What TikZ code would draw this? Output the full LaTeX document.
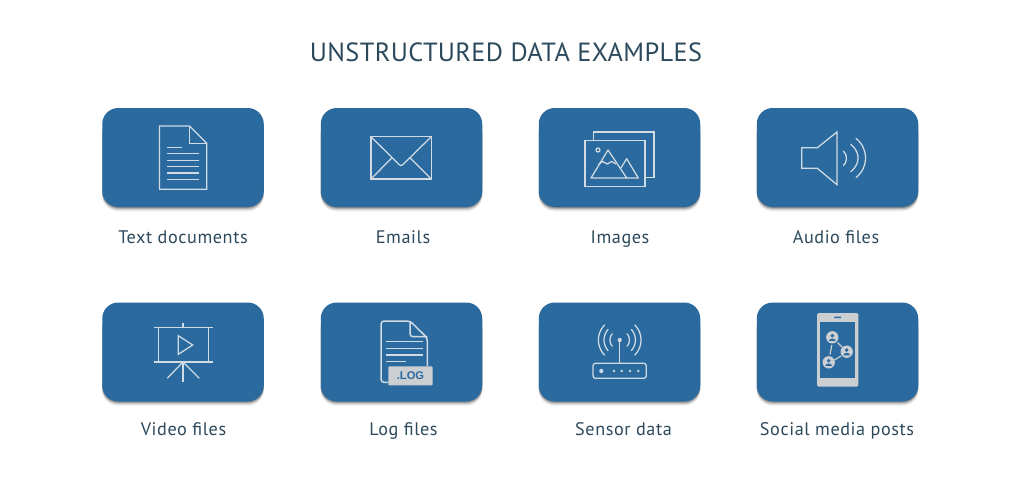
\documentclass[tikz,border=0pt]{standalone}
\usepackage{fontspec}
\setmainfont{PT Sans}
\newfontfamily\spacedfont[LetterSpace=1.4]{PT Sans}
\newfontfamily\labelfont[LetterSpace=3.2]{PT Sans}
\newfontfamily\logfont{Liberation Sans}
\definecolor{cardblue}{HTML}{2A6A9E}
\definecolor{inktext}{HTML}{2C4A5C}
\definecolor{iconline}{HTML}{D0DBE4}
\definecolor{icongray}{HTML}{CBCFD2}
\tikzset{
  cardbox/.style={fill=cardblue,rounded corners=16pt,inner sep=0pt,minimum width=161.5pt,minimum height=99pt},
  cardlabel/.style={anchor=base,text=inktext,inner sep=0pt,font=\labelfont\fontsize{18.2}{20}\selectfont},
  titletext/.style={anchor=base,text=inktext,inner sep=0pt,font=\spacedfont\fontsize{26.3}{30}\selectfont},
  icon/.style={draw=iconline,line width=1.25pt,line join=miter},
  graybar/.style={fill=icongray,draw=none},
  personfill/.style={fill=cardblue,draw=none},
}
\newcommand{\cardat}[6]{%
  \foreach \k/\o in {5/0.04,4/0.07,3/0.10,2/0.14,1/0.20}{
    \fill[black,opacity=\o,rounded corners=16pt] (#2-80.5-\k*0.1,#3-40) rectangle (#2+80.5+\k*0.1,#3+49.5+\k*0.9);
  }
  \node[cardbox] (#1) at (#2,#3) {};
  \node[cardlabel] (#1label) at (#4,#6) {#5};
}
\newcommand{\arcpath}[5]{\draw[icon,line cap=round] plot[smooth,samples=13,domain=#4:#5] ({#1+#3*cos(\x)},{#2+#3*sin(\x)});}
\newcommand{\personat}[2]{%
  \fill[graybar] (#1,#2) circle[radius=6.2pt];
  \fill[personfill] (#1,#2-1.6) circle[radius=1.9pt];
  \fill[personfill] (#1-3.4,#2+3.6) .. controls (#1-3.2,#2+0.4) and (#1+3.2,#2+0.4) .. (#1+3.4,#2+3.6) -- cycle;
}
\begin{document}
\begin{tikzpicture}[x=1pt,y=-1pt]
\useasboundingbox (0,0) rectangle (1025,485);
\fill[white] (0,0) rectangle (1025,485);
\node[titletext] (title) at (506,61) {UNSTRUCTURED DATA EXAMPLES};
\cardat{textdocs}{183}{157.5}{183}{Text documents}{243}
\cardat{emails}{401.5}{157.5}{403}{Emails}{243}
\cardat{images}{619.5}{157.5}{620}{Images}{243}
\cardat{audio}{837.5}{157.5}{836}{Audio files}{243}
\cardat{video}{183}{352}{183.5}{Video files}{435}
\cardat{logs}{401.5}{352}{403.5}{Log files}{435}
\cardat{sensor}{619.5}{352}{623.5}{Sensor data}{435}
\cardat{social}{837.5}{352}{837}{Social media posts}{435}
% text document
\draw[icon] (159.5,126) -- (189.5,126) -- (206.7,143.3) -- (206.7,189.3) -- (159.5,189.3) -- cycle;
\draw[icon] (189.5,126) -- (189.5,143.3) -- (206.7,143.3);
\draw[icon] (167.3,147.3) -- (182.3,147.3);
\foreach \yy in {153.7,160.3,166.7,173,179.3}{\draw[icon] (167.3,\yy) -- (199.3,\yy);}
% envelope
\draw[icon] (371,136.7) rectangle (431.3,179);
\draw[icon,line join=round] (371,136.7) -- (399,164.5) .. controls (401,166) .. (403,164.5) -- (431.3,136.7);
\draw[icon] (371,179) -- (392,157.7);
\draw[icon] (431.3,179) -- (410,157.7);
% images
\draw[icon] (593.3,140.7) -- (593.3,132) -- (654,132) -- (654,177.3) -- (645,177.3);
\draw[icon] (585,140.7) rectangle (645,186.3);
\draw[icon] (598,150) circle[radius=2pt];
\draw[icon,line join=round] (591,178) -- (608,150) -- (626.7,178) -- cycle;
\draw[icon,line join=round] (620.7,168.3) -- (626.7,158.7) -- (638.3,178) -- (626.7,178);
\draw[icon,line join=round] (598.7,164) -- (602.7,161.5) -- (607.3,164) -- (611.7,161.5) -- (616,164);
% speaker
\draw[icon] (801.7,147.7) -- (817.3,147.7) -- (837,132) -- (837,184.7) -- (817.3,168.3) -- (801.7,168.3) -- cycle;
\draw[icon,line cap=round] (843.3,151) .. controls (847.5,154) and (847.5,162.7) .. (843.3,165.7);
\draw[icon,line cap=round] (850.7,144.3) .. controls (860.5,152) and (860.5,164) .. (850.7,171.7);
\draw[icon,line cap=round] (856,138.3) .. controls (868.8,149) and (868.8,167) .. (856,177.7);
% video screen
\draw[icon] (154,327.3) -- (212.7,327.3);
\draw[icon] (154,362) -- (212.7,362);
\draw[icon] (158.3,327.3) -- (158.3,362);
\draw[icon] (208.7,327.3) -- (208.7,362);
\draw[icon] (183,323) -- (183,327.3);
\draw[icon] (183,362) -- (183,381.7);
\draw[icon] (183,362) -- (167.3,378.3);
\draw[icon] (183,362) -- (199.3,378.3);
\draw[icon] (178.3,335.7) -- (192.7,345) -- (178.3,354.3) -- cycle;
% log file
\draw[icon,line width=1.5pt,line join=round,rounded corners=3pt] (388.3,382.3) -- (381,382.3) -- (381,321) -- (410,321) -- (427.3,338) -- (427.3,366.3);
\draw[icon,line width=1.5pt,line join=round,rounded corners=3pt] (410,321) -- (410,336.7) -- (427.3,336.7);
\foreach \yy in {341.7,348.3,355}{\draw[icon,line width=1.5pt] (386,\yy) -- (422.7,\yy);}
\draw[icon,line width=1.5pt] (386,361.7) -- (406,361.7);
\node[graybar,rounded corners=1pt,minimum width=44.4pt,minimum height=19pt,inner sep=0pt,text=cardblue,font=\logfont\bfseries\fontsize{11.2}{13}\selectfont] (logtag) at (410.5,375.8) {.LOG};
% sensor
\draw[icon,rounded corners=2.5pt] (593,363.3) rectangle (646.3,378.3);
\draw[icon] (619.7,340) -- (619.7,363.3);
\fill[iconline] (619.7,340) circle[radius=2.1pt];
\fill[iconline] (601.3,371) circle[radius=2.1pt];
\foreach \xx in {614,621.7,630,638.3}{\fill[iconline] (\xx,371) circle[radius=1.4pt];}
\arcpath{619.7}{340}{9.7}{-40}{40}
\arcpath{619.7}{340}{9.7}{140}{220}
\arcpath{619.7}{340}{15.7}{-42}{42}
\arcpath{619.7}{340}{15.7}{138}{222}
\arcpath{619.7}{340}{21.3}{-45}{45}
\arcpath{619.7}{340}{21.3}{135}{225}
% phone
\fill[graybar,rounded corners=1.5pt] (817,313) rectangle (858.3,386.7);
\fill[cardblue] (820,321.7) rectangle (855,378.3);
\fill[cardblue,rounded corners=0.5pt] (834.2,316.6) rectangle (841.2,318.2);
\draw[draw=icongray,line width=1.2pt] (831.8,345) -- (830,354.5);
\draw[draw=icongray,line width=1.2pt] (837.5,342.5) -- (842,347);
\draw[draw=icongray,line width=1.2pt] (834.5,360) -- (841,356);
\personat{832.3}{337.3}
\personat{846.7}{351.7}
\personat{828.7}{362.3}
\end{tikzpicture}
\end{document}
